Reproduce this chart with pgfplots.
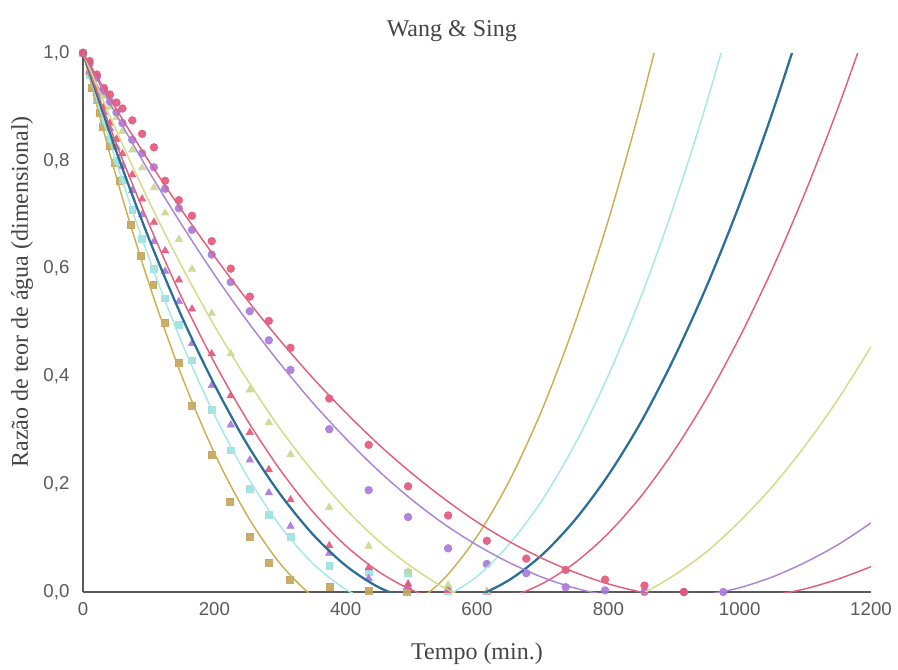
\documentclass[border=0pt]{standalone}
\usepackage{fontspec}
\setmainfont{Liberation Serif}
\newfontfamily\ticksf{Liberation Sans}
\usepackage{pgfplots}
\pgfplotsset{compat=1.18}
\definecolor{olivel}{HTML}{C9B050}
\definecolor{olivem}{HTML}{C4A45E}
\definecolor{cyanl}{HTML}{A6E8E4}
\definecolor{cyanm}{HTML}{9CE0E0}
\definecolor{dblue}{HTML}{2B6E96}
\definecolor{pinkl}{HTML}{E2607E}
\definecolor{pinkm}{HTML}{E4557A}
\definecolor{ygl}{HTML}{D2DC86}
\definecolor{ygm}{HTML}{C9D88E}
\definecolor{purl}{HTML}{A985D6}
\definecolor{purm}{HTML}{A878DA}
\definecolor{axgray}{HTML}{5A5A5A}
\definecolor{txtgray}{HTML}{454545}
\begin{document}
\begin{tikzpicture}
\begin{axis}[
  name=ax,
  scale only axis,
  width=591pt, height=404.25pt,
  xmin=0, xmax=1200, ymin=0, ymax=1,
  axis x line=bottom, axis y line=left,
  axis line style={-, draw=axgray, line width=1.8pt},
  xtick={0,200,400,600,800,1000,1200},
  ytick={0,0.2,0.4,0.6,0.8,1.0},
  major tick length=0pt,
  /pgf/number format/assume math mode=true,
  tick label style={font=\ticksf\fontsize{14}{16}\selectfont, text=axgray},
  xticklabel style={inner sep=0pt, yshift=-8pt, /pgf/number format/1000 sep={}},
  yticklabel style={inner sep=0pt, xshift=-10pt, /pgf/number format/.cd, use comma, fixed, fixed zerofill, precision=1},
  title={Wang \& Sing},
  title style={at={(axis description cs:0.468,1.026)}, anchor=center, font=\fontsize{18}{20}\selectfont, text=txtgray},
  xlabel={Tempo (min.)},
  xlabel style={at={(axis description cs:0.5,-0.114)}, anchor=center, font=\fontsize{18}{20}\selectfont, text=txtgray},
  ylabel={Razão de teor de água (dimensional)},
  ylabel style={at={(axis description cs:-0.0774,0.557)}, anchor=center, font=\fontsize{18}{20}\selectfont, text=txtgray},
  clip mode=individual,
]
% ---- data markers ----
\addplot[only marks, mark=square*, mark size=2.6pt, color=olivem, opacity=0.9] coordinates {
(0,1.0)(13,0.935)(21,0.913)(25,0.889)(30,0.864)(41,0.827)(49,0.796)(56,0.763)(73,0.681)(88,0.623)(107,0.570)(125,0.500)(146,0.426)(166,0.346)(196,0.255)(224,0.168)(254,0.103)(283,0.054)(315,0.023)(376,0.010)(435,0.003)(493,0.0)};
\addplot[only marks, mark=square*, mark size=2.6pt, color=cyanm, opacity=0.9] coordinates {
(0,1.0)(10,0.960)(21,0.915)(32,0.875)(41,0.840)(51,0.800)(60,0.765)(75,0.710)(90,0.655)(108,0.600)(125,0.545)(146,0.496)(166,0.430)(196,0.338)(225,0.263)(254,0.191)(283,0.143)(316,0.103)(375,0.049)(435,0.037)(495,0.035)(556,0.002)};
\addplot[only marks, mark=triangle*, mark size=3.2pt, color=purm, opacity=0.9] coordinates {
(0,1.0)(10,0.965)(21,0.925)(32,0.890)(41,0.860)(51,0.825)(60,0.790)(75,0.745)(90,0.700)(108,0.650)(125,0.595)(146,0.539)(166,0.461)(196,0.383)(225,0.310)(254,0.245)(283,0.184)(316,0.122)(375,0.072)(435,0.025)(495,0.010)(556,0.005)(615,0.0)};
\addplot[only marks, mark=triangle*, mark size=3.2pt, color=pinkm, opacity=0.9] coordinates {
(0,1.0)(10,0.968)(21,0.935)(32,0.900)(41,0.870)(51,0.840)(60,0.813)(75,0.774)(90,0.729)(108,0.686)(125,0.633)(146,0.579)(166,0.525)(196,0.442)(225,0.364)(254,0.296)(283,0.227)(316,0.171)(375,0.086)(435,0.045)(495,0.015)(556,0.003)(615,0.0)};
\addplot[only marks, mark=triangle*, mark size=3.2pt, color=ygm, opacity=0.9] coordinates {
(0,1.0)(10,0.975)(21,0.950)(32,0.920)(41,0.900)(51,0.880)(60,0.855)(75,0.820)(90,0.787)(108,0.750)(125,0.703)(146,0.654)(166,0.599)(196,0.517)(225,0.442)(254,0.375)(283,0.314)(316,0.255)(375,0.157)(435,0.085)(495,0.038)(556,0.013)(615,0.0)};
\addplot[only marks, mark=*, mark size=2.9pt, color=purm, opacity=0.9] coordinates {
(0,1.0)(10,0.980)(21,0.955)(32,0.930)(41,0.910)(51,0.890)(60,0.870)(75,0.839)(90,0.814)(108,0.788)(125,0.748)(146,0.712)(166,0.672)(196,0.626)(225,0.575)(254,0.521)(283,0.467)(316,0.412)(375,0.302)(435,0.189)(495,0.139)(556,0.081)(615,0.052)(675,0.035)(735,0.009)(795,0.003)(855,0.0)(915,0.0)(975,0.0)};
\addplot[only marks, mark=*, mark size=2.9pt, color=pinkm, opacity=0.9] coordinates {
(0,1.0)(10,0.985)(21,0.960)(32,0.935)(41,0.923)(51,0.908)(60,0.897)(75,0.875)(90,0.850)(108,0.825)(125,0.763)(146,0.727)(166,0.698)(196,0.651)(225,0.600)(254,0.548)(283,0.503)(316,0.453)(375,0.359)(435,0.273)(495,0.196)(556,0.142)(615,0.095)(675,0.062)(735,0.041)(795,0.023)(855,0.012)(915,0.0)};
% ---- fitted curves ----
\begin{scope}
\clip (axis cs:0,0) rectangle (axis cs:1200,1);
\addplot[smooth, no marks, color=olivel, line width=1.1pt] coordinates {
(0,1)(50,0.773)(100,0.574)(150,0.402)(200,0.258)(250,0.142)(300,0.053)(350,-0.008)(400,-0.041)(450,-0.047)(500,-0.024)(550,0.025)(600,0.103)(650,0.208)(700,0.341)(750,0.502)(800,0.690)(850,0.906)(900,1.150)};
\addplot[smooth, no marks, color=cyanl, line width=1.1pt] coordinates {
(0,1)(50,0.800)(100,0.621)(150,0.464)(200,0.329)(250,0.215)(300,0.123)(350,0.053)(400,0.005)(450,-0.022)(500,-0.026)(550,-0.009)(600,0.029)(650,0.090)(700,0.172)(750,0.276)(800,0.402)(850,0.549)(900,0.718)(950,0.909)(1000,1.122)};
\addplot[smooth, no marks, color=dblue, line width=1.7pt] coordinates {
(0,1)(50,0.820)(100,0.657)(150,0.512)(200,0.385)(250,0.274)(300,0.182)(350,0.107)(400,0.049)(450,0.009)(500,-0.014)(550,-0.019)(600,-0.007)(650,0.023)(700,0.070)(750,0.135)(800,0.217)(850,0.316)(900,0.434)(950,0.568)(1000,0.720)(1050,0.890)(1100,1.077)};
\addplot[smooth, no marks, color=pinkl, line width=1.1pt] coordinates {
(0,1)(50,0.834)(100,0.684)(150,0.547)(200,0.426)(250,0.319)(300,0.227)(350,0.149)(400,0.086)(450,0.038)(500,0.004)(550,-0.015)(600,-0.019)(650,-0.009)(700,0.016)(750,0.055)(800,0.109)(850,0.178)(900,0.262)(950,0.360)(1000,0.473)(1050,0.600)(1100,0.742)(1150,0.899)(1200,1.070)};
\addplot[smooth, no marks, color=ygl, line width=1.1pt] coordinates {
(0,1)(50,0.858)(100,0.726)(150,0.605)(200,0.494)(250,0.394)(300,0.303)(350,0.224)(400,0.154)(450,0.095)(500,0.047)(550,0.008)(600,-0.020)(650,-0.037)(700,-0.044)(750,-0.041)(800,-0.028)(850,-0.004)(900,0.031)(950,0.075)(1000,0.131)(1050,0.196)(1100,0.272)(1150,0.358)(1200,0.455)};
\addplot[smooth, no marks, color=purl, line width=1.1pt] coordinates {
(0,1)(50,0.887)(100,0.781)(150,0.682)(200,0.589)(250,0.503)(300,0.424)(350,0.351)(400,0.285)(450,0.225)(500,0.172)(550,0.126)(600,0.087)(650,0.054)(700,0.027)(750,0.007)(800,-0.006)(850,-0.012)(900,-0.012)(950,-0.005)(1000,0.008)(1050,0.028)(1100,0.055)(1150,0.088)(1200,0.128)};
\addplot[smooth, no marks, color=pinkl, line width=1.1pt] coordinates {
(0,1)(50,0.897)(100,0.800)(150,0.709)(200,0.623)(250,0.542)(300,0.467)(350,0.397)(400,0.333)(450,0.274)(500,0.221)(550,0.173)(600,0.130)(650,0.093)(700,0.062)(750,0.036)(800,0.015)(850,0.0)(900,-0.010)(950,-0.014)(1000,-0.013)(1050,-0.006)(1100,0.006)(1150,0.024)(1200,0.047)};
\end{scope}
\end{axis}
\path ([xshift=-62.25pt,yshift=-57.75pt]ax.south west) rectangle ([xshift=20.25pt,yshift=39.75pt]ax.north east);
\end{tikzpicture}
\end{document}
